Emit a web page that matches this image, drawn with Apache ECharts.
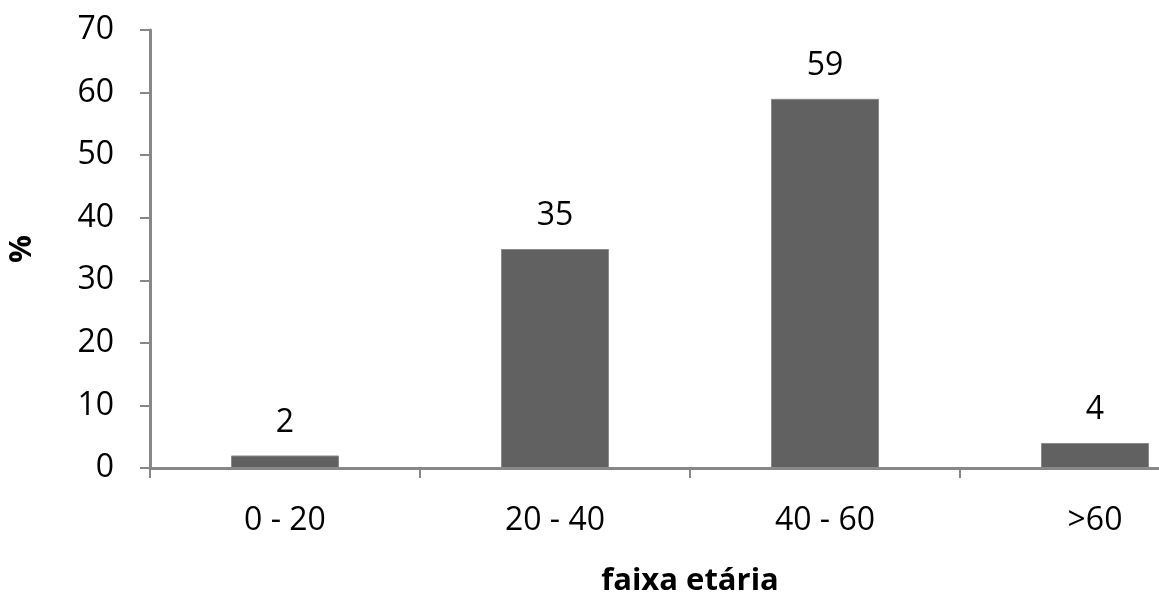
<!DOCTYPE html>
<html>
<head>
<meta charset="utf-8">
<script src="https://cdn.jsdelivr.net/npm/echarts@6/dist/echarts.min.js"></script>
<style>html,body{margin:0;padding:0;background:#fff}#c{width:1159px;height:601px}</style>
</head>
<body>
<div id="c"></div>
<script>
const categories = ['0 - 20', '20 - 40', '40 - 60', '>60'];
const values = [2, 35, 59, 4];
const yTicks = [0, 10, 20, 30, 40, 50, 60, 70];
const xName = 'faixa etária';
const yName = '%';

const font = '"Open Sans", sans-serif';
const fs = 32;
const chart = echarts.init(document.getElementById('c'));
chart.setOption({
  animation: false,
  grid: { left: 150, top: 30, bottom: 133, right: -71, containLabel: false, outerBoundsMode: 'none' },
  xAxis: {
    type: 'category',
    data: categories,
    name: xName,
    nameLocation: 'middle',
    nameGap: 98,
    nameTextStyle: { fontFamily: font, fontWeight: 'bold', fontSize: 31, color: '#000' },
    axisLine: { lineStyle: { color: '#878787', width: 3 } },
    axisTick: { show: true, length: 10, lineStyle: { color: '#878787', width: 2 } },
    axisLabel: { fontFamily: font, fontSize: fs, color: '#000', margin: 37 }
  },
  yAxis: {
    type: 'value',
    min: yTicks[0],
    max: yTicks[yTicks.length - 1],
    interval: yTicks[1] - yTicks[0],
    name: yName,
    nameLocation: 'middle',
    nameGap: 112,
    nameRotate: 90,
    nameTextStyle: { fontFamily: font, fontWeight: 'bold', fontSize: 31, color: '#000' },
    splitLine: { show: false },
    axisLine: { show: true, lineStyle: { color: '#878787', width: 3 } },
    axisTick: { show: true, length: 10, lineStyle: { color: '#878787', width: 2 } },
    axisLabel: { fontFamily: font, fontSize: fs, color: '#000', margin: 36 }
  },
  series: [{
    type: 'bar',
    data: values,
    barWidth: '40%',
    itemStyle: { color: '#616161', borderColor: '#8a8a8a', borderWidth: 1 },
    label: { show: true, position: 'top', distance: 17, fontFamily: font, fontSize: fs, color: '#000' }
  }]
});
</script>
</body>
</html>
